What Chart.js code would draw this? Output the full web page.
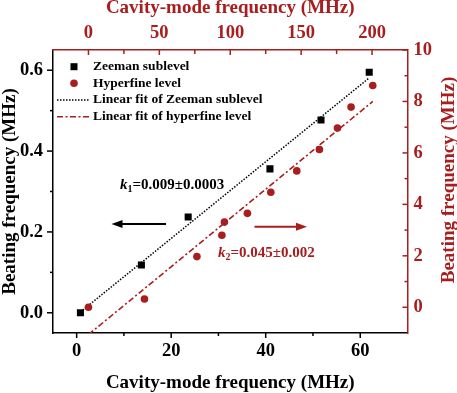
<!DOCTYPE html>
<html lang="en">
<head>
<meta charset="UTF-8" />
<title>Beating frequency vs cavity-mode frequency</title>
<script src="https://cdn.jsdelivr.net/npm/chart.js"></script>
<style>
  body { margin: 0; background: #fff; }
  #wrap { width: 457px; height: 393px; }
</style>
</head>
<body>
<div id="wrap"><canvas id="chart" width="457" height="393"></canvas></div>
<script>
// values
const zeemanX = [0.8, 13.7, 23.6, 40.9, 51.7, 61.9];        // bottom axis (MHz)
const zeemanY = [0.0, 0.118, 0.237, 0.356, 0.477, 0.595];   // left axis (MHz)
const hyperX = [0, 39.5, 76.5, 94.1, 95.9, 112.1, 128.6, 146.9, 162.9, 175.6, 185.2, 200.5]; // top axis
const hyperY = [0.0, 0.32, 1.97, 2.80, 3.31, 3.65, 4.47, 5.30, 6.13, 6.97, 7.78, 8.62];      // right axis
const zeemanFitX = [0.8, 61.9];
const zeemanFitY = [0.002, 0.581];
const hyperFitX = [0, 200.5];
const hyperFitY = [-1.06, 8.0];

const bottomTicks = [0, 20, 40, 60];
const bottomMinor = [10, 30, 50];
const leftTicks = [0, 0.2, 0.4, 0.6];
const leftMinor = [0.1, 0.3, 0.5];
const topTicks = [0, 50, 100, 150, 200];
const topMinor = [25, 75, 125, 175];
const rightTicks = [0, 2, 4, 6, 8, 10];
const rightMinor = [1, 3, 5, 7, 9];

const legendLabels = ['Zeeman sublevel', 'Hyperfine level', 'Linear fit of Zeeman sublevel', 'Linear fit of hyperfine level'];

const RED = '#a81d1d';
const FONT = '"Liberation Serif", "Times New Roman", serif';

function zip(xs, ys) { return xs.map((x, i) => ({ x: x, y: ys[i] })); }
function setTicks(list) { return s => { s.ticks = list.map(v => ({ value: v })); }; }

// tick marks: left/bottom outward, top/right inward (like the original)
const tickMarks = {
  id: 'tickMarks',
  afterDraw(chart) {
    const { ctx, chartArea: a, scales } = chart;
    ctx.save();
    ctx.lineWidth = 1.5;
    function vert(scale, vals, y0, len, color) {
      ctx.strokeStyle = color;
      vals.forEach(v => {
        const px = scale.getPixelForValue(v);
        ctx.beginPath(); ctx.moveTo(px, y0); ctx.lineTo(px, y0 + len); ctx.stroke();
      });
    }
    function horiz(scale, vals, x0, len, color) {
      ctx.strokeStyle = color;
      vals.forEach(v => {
        const py = scale.getPixelForValue(v);
        ctx.beginPath(); ctx.moveTo(x0, py); ctx.lineTo(x0 + len, py); ctx.stroke();
      });
    }
    vert(scales.x, bottomTicks, a.bottom, 5, '#000');
    vert(scales.x, bottomMinor, a.bottom, 3, '#000');
    horiz(scales.y, leftTicks, a.left, -6, '#000');
    horiz(scales.y, leftMinor, a.left, -3, '#000');
    vert(scales.x2, topTicks, a.top, 5, RED);
    vert(scales.x2, topMinor, a.top, 4, RED);
    horiz(scales.y2, rightTicks, a.right, -5, RED);
    horiz(scales.y2, rightMinor, a.right, -3, RED);
    ctx.restore();
  }
};

// legend, slope labels, arrows and right axis title
const extras = {
  id: 'extras',
  afterDraw(chart) {
    const { ctx } = chart;
    ctx.save();
    // legend
    ctx.font = 'bold 13.5px ' + FONT;
    ctx.textBaseline = 'middle';
    ctx.textAlign = 'left';
    const rows = [66.7, 83.3, 100, 116.7];
    legendLabels.forEach((t, i) => {
      ctx.fillStyle = '#000';
      ctx.fillText(t, 93, rows[i]);
    });
    ctx.fillStyle = '#000';
    ctx.fillRect(70.5, rows[0] - 3.5, 7, 7);
    ctx.fillStyle = RED;
    ctx.beginPath(); ctx.arc(74, rows[1], 3.8, 0, Math.PI * 2); ctx.fill();
    ctx.lineWidth = 1.5;
    ctx.strokeStyle = '#000';
    ctx.setLineDash([1.5, 1.5]);
    ctx.beginPath(); ctx.moveTo(57, rows[2]); ctx.lineTo(89, rows[2]); ctx.stroke();
    ctx.strokeStyle = RED;
    ctx.setLineDash([6, 2.5, 2, 2.5]);
    ctx.beginPath(); ctx.moveTo(57, rows[3]); ctx.lineTo(89, rows[3]); ctx.stroke();
    ctx.setLineDash([]);

    // slope labels
    function slope(x, y, sub, rest, color) {
      ctx.fillStyle = color;
      ctx.font = 'italic bold 15px ' + FONT;
      ctx.fillText('k', x, y);
      x += ctx.measureText('k').width;
      ctx.font = 'bold 10px ' + FONT;
      ctx.fillText(sub, x, y + 4);
      x += ctx.measureText(sub).width;
      ctx.font = 'bold 15px ' + FONT;
      ctx.fillText(rest, x, y);
    }
    slope(120, 185, '1', '=0.009\u00b10.0003', '#000');
    slope(218, 253.5, '2', '=0.045\u00b10.002', RED);

    // arrows
    function arrow(x1, x2, y, color) {
      ctx.strokeStyle = color; ctx.fillStyle = color; ctx.lineWidth = 2;
      const dir = Math.sign(x2 - x1);
      ctx.beginPath(); ctx.moveTo(x1, y); ctx.lineTo(x2 - dir * 8, y); ctx.stroke();
      ctx.beginPath();
      ctx.moveTo(x2, y); ctx.lineTo(x2 - dir * 11, y - 4); ctx.lineTo(x2 - dir * 11, y + 4);
      ctx.closePath(); ctx.fill();
    }
    arrow(166, 111.5, 224, '#000');
    arrow(254.5, 307, 226.7, RED);

    // right axis title, reading bottom to top like the left one
    ctx.translate(449, 180);
    ctx.rotate(-Math.PI / 2);
    ctx.textAlign = 'center';
    ctx.fillStyle = RED;
    ctx.font = 'bold 19px ' + FONT;
    ctx.fillText('Beating frequency (MHz)', 0, 0);
    ctx.restore();
  }
};

const tickFont = { family: FONT, size: 18.5, weight: 'bold' };
const titleFont = { family: FONT, size: 19, weight: 'bold', lineHeight: 1 };

new Chart(document.getElementById('chart'), {
  type: 'scatter',
  data: {
    datasets: [
      { label: legendLabels[0], data: zip(zeemanX, zeemanY), xAxisID: 'x', yAxisID: 'y',
        pointStyle: 'rect', pointRadius: 5, pointBorderWidth: 0, backgroundColor: '#000', borderColor: '#000', order: 1 },
      { label: legendLabels[1], data: zip(hyperX, hyperY), xAxisID: 'x2', yAxisID: 'y2',
        pointStyle: 'circle', pointRadius: 3.8, pointBorderWidth: 0, backgroundColor: RED, borderColor: RED, order: 1 },
      { label: legendLabels[2], data: zip(zeemanFitX, zeemanFitY), xAxisID: 'x', yAxisID: 'y',
        showLine: true, pointRadius: 0, borderColor: '#000', borderWidth: 1.5, borderDash: [1.5, 1.5], order: 2 },
      { label: legendLabels[3], data: zip(hyperFitX, hyperFitY), xAxisID: 'x2', yAxisID: 'y2',
        showLine: true, pointRadius: 0, borderColor: RED, borderWidth: 1.6, borderDash: [6, 2.5, 2, 2.5], order: 2 }
    ]
  },
  options: {
    responsive: false,
    animation: false,
    devicePixelRatio: 1,
    layout: { padding: 0 },
    plugins: { legend: { display: false }, tooltip: { enabled: false } },
    scales: {
      x: {
        type: 'linear', position: 'bottom', min: -5, max: 70,
        afterBuildTicks: setTicks(bottomTicks),
        afterFit: s => { s.height = 60; },
        grid: { display: false, drawTicks: false },
        border: { color: '#000', width: 1.5 },
        ticks: { color: '#000', padding: 7, autoSkip: false, maxRotation: 0, font: tickFont },
        title: { display: true, text: 'Cavity-mode frequency (MHz)', color: '#000', font: titleFont, padding: { top: 0, bottom: 0 } }
      },
      y: {
        type: 'linear', position: 'left', min: -0.05, max: 0.65,
        afterBuildTicks: setTicks(leftTicks),
        afterFit: s => { s.width = 53; },
        grid: { display: false, drawTicks: false },
        border: { color: '#000', width: 1.5 },
        ticks: { color: '#000', padding: 10, autoSkip: false, font: tickFont, callback: v => v.toFixed(1) },
        title: { display: true, text: 'Beating frequency (MHz)', color: '#000', font: titleFont, padding: { top: 1, bottom: 0 } }
      },
      x2: {
        type: 'linear', position: 'top', min: -25, max: 225,
        afterBuildTicks: setTicks(topTicks),
        afterFit: s => { s.height = 50; },
        grid: { display: false, drawTicks: false },
        border: { color: RED, width: 1.5 },
        ticks: { color: RED, padding: 6, autoSkip: false, maxRotation: 0, font: tickFont },
        title: { display: true, text: 'Cavity-mode frequency (MHz)', color: RED, font: titleFont, padding: { top: -1, bottom: 0 } }
      },
      y2: {
        type: 'linear', position: 'right', min: -1, max: 10,
        afterBuildTicks: setTicks(rightTicks),
        afterFit: s => { s.width = 49.5; },
        grid: { display: false, drawTicks: false },
        border: { color: RED, width: 1.5 },
        ticks: { color: RED, padding: 6, autoSkip: false, font: tickFont }
      }
    }
  },
  plugins: [tickMarks, extras]
});
</script>
</body>
</html>
